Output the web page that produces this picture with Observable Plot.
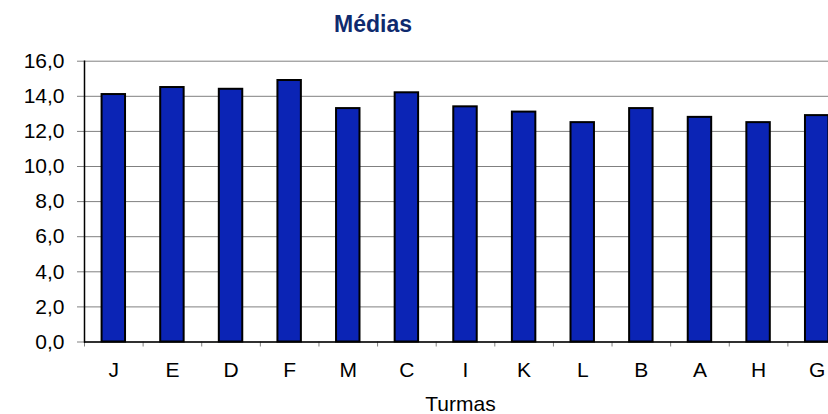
<!DOCTYPE html>
<html>
<head>
<meta charset="utf-8">
<script src="https://cdn.jsdelivr.net/npm/d3@7"></script>
<script src="https://cdn.jsdelivr.net/npm/@observablehq/plot@0.6"></script>
<style>
  html, body { margin: 0; padding: 0; background: white; }
  body { width: 828px; height: 414px; overflow: hidden; font-family: "Liberation Sans", Arial, sans-serif; }
  #title { position: relative; height: 44px; }
  #title span { position: absolute; top: 11px; left: 373px; transform: translateX(-50%); font-weight: bold; font-size: 23px; color: #0F2A6E; line-height: normal; white-space: nowrap; }
  #chart { width: 828px; overflow: hidden; }
  #chart svg { max-width: none !important; height: 370px !important; width: 850px !important; display: block; }
  #chart svg text { font-size: 21px !important; font-family: "Liberation Sans", Arial, sans-serif !important; }
</style>
</head>
<body>
<div id="title"><span>Médias</span></div>
<div id="chart"></div>
<script>
const categories = ["J", "E", "D", "F", "M", "C", "I", "K", "L", "B", "A", "H", "G"];
const values = [14.1, 14.5, 14.4, 14.9, 13.3, 14.2, 13.4, 13.1, 12.5, 13.3, 12.8, 12.5, 12.9];
const yTicks = [0, 2, 4, 6, 8, 10, 12, 14, 16];
const xTitle = "Turmas";

const data = categories.map((c, i) => ({turma: c, media: values[i]}));

const W = 850, H = 370, ML = 84, MR = 4, MT = 16.7, MB = 72.5;
const step = (W - ML - MR) / categories.length;
const gray = "#808080";

const chart = Plot.plot({
  width: W,
  height: H,
  marginLeft: ML,
  marginRight: MR,
  marginTop: MT,
  marginBottom: MB,
  style: {fontFamily: "'Liberation Sans', Arial, sans-serif", fontSize: "21px", color: "black", background: "white", overflow: "visible", maxWidth: "none"},
  x: {domain: categories, paddingInner: 0.6, paddingOuter: 0.3, round: false, label: null},
  y: {domain: [0, 16], ticks: yTicks, label: null},
  marks: [
    Plot.gridY(yTicks, {stroke: gray, strokeOpacity: 1}),
    Plot.axisY(yTicks, {tickSize: 7, tickPadding: 13, stroke: gray, fill: "black", fontSize: 21, label: null,
      tickFormat: d => d.toFixed(1).replace(".", ",")}),
    Plot.axisX({tickSize: 0, tickPadding: 20, fontSize: 21, fill: "black", label: null}),
    Plot.axisX(categories, {dx: step / 2, tickSize: 5, stroke: gray, tickFormat: () => "", label: null}),
    Plot.axisX(categories.slice(0, 1), {dx: -step / 2, tickSize: 5, stroke: gray, tickFormat: () => "", label: null}),
    Plot.barY(data, {x: "turma", y: "media", fill: "#0B24B5", stroke: "black", strokeWidth: 2}),
    Plot.ruleY([0], {stroke: "black", strokeWidth: 1.5}),
    Plot.frame({anchor: "left", stroke: "black", strokeWidth: 1.5}),
    Plot.text([xTitle], {frameAnchor: "bottom", dy: 54, dx: -5, lineAnchor: "top", fontSize: 21, fill: "black", text: d => d})
  ]
});
document.getElementById("chart").appendChild(chart);
</script>
</body>
</html>
